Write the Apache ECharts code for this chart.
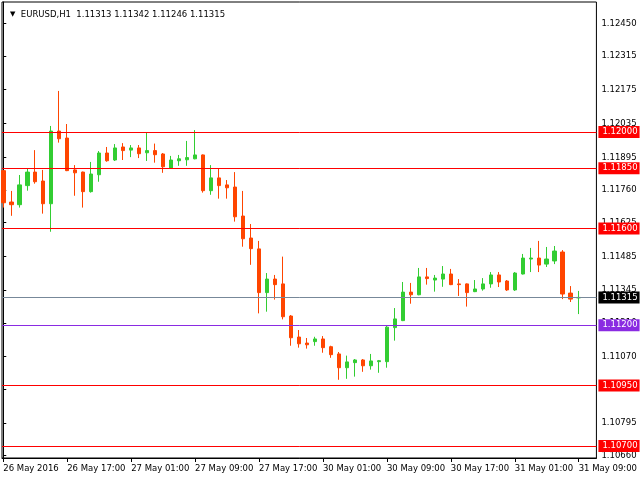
<!DOCTYPE html>
<html><head><meta charset="utf-8">
<script src="https://cdn.jsdelivr.net/npm/echarts@6/dist/echarts.min.js"></script>
<style>html,body{margin:0;padding:0;background:#fff}#c{width:640px;height:480px}</style>
</head><body><div id="c"></div>
<script>
const symbol = 'EURUSD,H1';
const xLabels = ['26 May 2016','26 May 17:00','27 May 01:00','27 May 09:00','27 May 17:00','30 May 01:00','30 May 09:00','30 May 17:00','31 May 01:00','31 May 09:00'];
const xLabelBars = [0, 8, 16, 24, 32, 40, 48, 56, 64, 72];
const open  = [1.11840,1.11710,1.11699,1.11778,1.11834,1.11797,1.11703,1.12004,1.11975,1.11843,1.11834,1.11753,1.11823,1.11913,1.11884,1.11938,1.11925,1.11934,1.11914,1.11923,1.11909,1.11851,1.11881,1.11885,1.11889,1.11905,1.11757,1.11810,1.11781,1.11772,1.11652,1.11561,1.11516,1.11335,1.11391,1.11371,1.11238,1.11151,1.11126,1.11132,1.11143,1.11111,1.11081,1.11024,1.11045,1.11056,1.11032,1.11049,1.11049,1.11190,1.11219,1.11337,1.11326,1.11400,1.11387,1.11391,1.11412,1.11371,1.11371,1.11339,1.11350,1.11371,1.11408,1.11383,1.11346,1.11412,1.11474,1.11478,1.11453,1.11466,1.11503,1.11333,1.11313];
const high  = [1.11842,1.11756,1.11822,1.11848,1.11925,1.11843,1.12025,1.12170,1.12033,1.11863,1.11836,1.11876,1.11921,1.11938,1.11950,1.11954,1.11946,1.11946,1.11999,1.11952,1.11913,1.11901,1.11905,1.11963,1.12008,1.11907,1.11863,1.11848,1.11801,1.11834,1.11756,1.11619,1.11549,1.11416,1.11408,1.11484,1.11242,1.11180,1.11147,1.11152,1.11155,1.11115,1.11089,1.11074,1.11060,1.11060,1.11081,1.11056,1.11197,1.11271,1.11379,1.11375,1.11437,1.11437,1.11408,1.11445,1.11433,1.11391,1.11373,1.11387,1.11395,1.11420,1.11420,1.11387,1.11420,1.11495,1.11520,1.11549,1.11524,1.11528,1.11511,1.11362,1.11342];
const low   = [1.11687,1.11653,1.11687,1.11757,1.11786,1.11662,1.11587,1.11956,1.11838,1.11736,1.11687,1.11749,1.11794,1.11877,1.11880,1.11884,1.11896,1.11892,1.11880,1.11873,1.11831,1.11849,1.11860,1.11860,1.11887,1.11749,1.11740,1.11724,1.11724,1.11629,1.11525,1.11450,1.11249,1.11256,1.11306,1.11224,1.11115,1.11107,1.11103,1.11115,1.11086,1.11065,1.10974,1.10978,1.10987,1.11007,1.11016,1.11003,1.11024,1.11136,1.11217,1.11289,1.11324,1.11368,1.11339,1.11359,1.11366,1.11321,1.11277,1.11337,1.11343,1.11355,1.11358,1.11342,1.11342,1.11410,1.11420,1.11420,1.11441,1.11453,1.11308,1.11296,1.11246];
const close = [1.11707,1.11699,1.11781,1.11834,1.11794,1.11703,1.12004,1.11972,1.11840,1.11831,1.11753,1.11826,1.11913,1.11881,1.11934,1.11923,1.11934,1.11910,1.11923,1.11906,1.11856,1.11884,1.11889,1.11894,1.11905,1.11757,1.11810,1.11778,1.11769,1.11649,1.11558,1.11517,1.11335,1.11391,1.11368,1.11235,1.11148,1.11123,1.11119,1.11143,1.11107,1.11078,1.11024,1.11048,1.11056,1.11032,1.11052,1.11053,1.11192,1.11226,1.11337,1.11326,1.11400,1.11393,1.11395,1.11412,1.11368,1.11368,1.11335,1.11350,1.11371,1.11408,1.11379,1.11346,1.11416,1.11478,1.11478,1.11449,1.11474,1.11507,1.11329,1.11308,1.11315];
const redLevels = [1.12000, 1.11850, 1.11600, 1.10950, 1.10700];
const purpleLevels = [1.11200];
const yTicks = [1.10660,1.10795,1.10935,1.11070,1.11210,1.11345,1.11485,1.11625,1.11760,1.11895,1.12035,1.12175,1.12315,1.12450];
const priceMin = 1.106501, priceMax = 1.125383;

const FONT = 'DejaVu Sans';
const FS = 8.5;
const f5 = v => Number(v).toFixed(5);
const n = open.length;
const last = n - 1;
const candles = open.map((o, i) => [i, o, close[i], low[i], high[i]]);
const bid = close[last];

function lvl(v, color) {
  return {
    yAxis: v,
    lineStyle: { color: color, width: 1, type: 'solid' },
    label: { backgroundColor: color }
  };
}
const mlData = []
  .concat(redLevels.map(v => lvl(v, '#ff0000')))
  .concat(purpleLevels.map(v => lvl(v, '#8a2be2')))
  .concat([{ yAxis: bid, lineStyle: { color: '#778899', width: 1, type: 'solid' }, label: { backgroundColor: '#000000' } }]);

const chart = echarts.init(document.getElementById('c'), null, { renderer: 'canvas' });
chart.setOption({
  animation: false,
  backgroundColor: '#ffffff',
  title: {
    left: 5, top: 5,
    text: '{tri|▼}  ' + symbol + '  ' + [open[last], high[last], low[last], close[last]].map(f5).join(' '),
    textStyle: {
      fontFamily: FONT, fontSize: FS, fontWeight: 'normal', color: '#000',
      rich: { tri: { fontFamily: FONT, fontSize: 7, color: '#000' } }
    }
  },
  grid: { left: 2, right: 43, top: 2, bottom: 22, show: true, borderColor: '#000', borderWidth: 1, backgroundColor: '#fff', z: 0 },
  xAxis: {
    type: 'value',
    z: 0,
    min: -0.16,
    max: -0.16 + 595 / 8,
    splitLine: { show: false },
    axisLine: { show: true, lineStyle: { color: '#000', width: 1 } },
    axisTick: { show: true, length: 4, lineStyle: { color: '#000' }, customValues: xLabelBars },
    axisLabel: {
      customValues: xLabelBars,
      formatter: v => xLabels[xLabelBars.indexOf(Math.round(v))] || '',
      align: 'left', margin: 6,
      fontFamily: FONT, fontSize: FS, color: '#000'
    }
  },
  yAxis: {
    type: 'value',
    z: 0,
    position: 'right',
    min: priceMin, max: priceMax,
    scale: true,
    splitLine: { show: false },
    axisLine: { show: true, lineStyle: { color: '#000', width: 1 } },
    axisTick: { show: true, length: 3, lineStyle: { color: '#000' }, customValues: yTicks },
    axisLabel: {
      customValues: yTicks,
      formatter: v => f5(v),
      align: 'left', margin: 5,
      fontFamily: FONT, fontSize: FS, color: '#000'
    }
  },
  series: [{
    type: 'candlestick',
    z: 10,
    data: candles,
    encode: { x: 0, y: [1, 2, 3, 4] },
    barWidth: 4,
    itemStyle: {
      color: '#32cd32', color0: '#ff4500',
      borderColor: '#32cd32', borderColor0: '#ff4500',
      borderWidth: 1
    },
    markLine: {
      silent: true,
      z: 20,
      zlevel: 0,
      precision: 5,
      symbol: ['none', 'none'],
      animation: false,
      label: {
        show: true, position: 'end', distance: 2,
        formatter: p => f5(p.value),
        color: '#fff', fontFamily: FONT, fontSize: FS,
        padding: [2, 2, 1, 4]
      },
      emphasis: { disabled: true },
      data: mlData
    }
  }]
});
</script>
</body></html>
